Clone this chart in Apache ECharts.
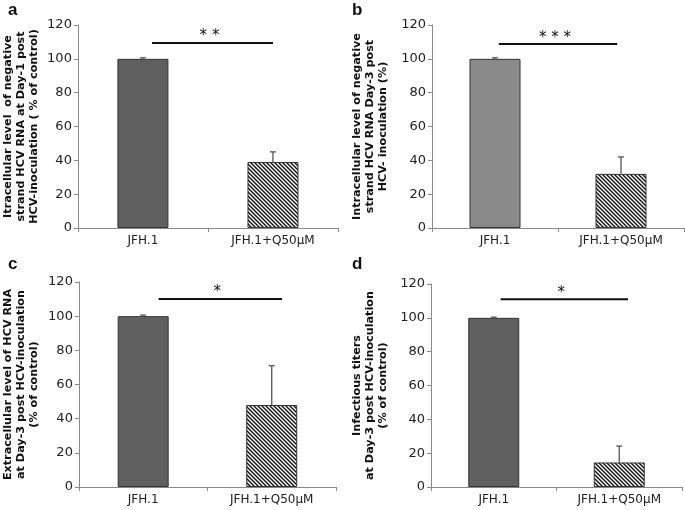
<!DOCTYPE html>
<html><head><meta charset="utf-8">
<script src="https://cdn.jsdelivr.net/npm/echarts@6/dist/echarts.min.js"></script>
<style>html,body{margin:0;padding:0;background:#fff}#c{width:685px;height:510px}</style>
</head><body><div id="c"></div>
<script>
// ---- data ----
const categories = ['JFH.1', 'JFH.1+Q50μM'];
const yMin = 0, yMax = 120, yStep = 20;
const panelLabels = ['a', 'b', 'c', 'd'];
const yTitles = [
  'Itracellular level  of negative\nstrand HCV RNA at Day-1 post\nHCV-inoculation ( % of control)',
  'Intracellular level of negative\nstrand HCV RNA Day-3 post\nHCV- inoculation (%)',
  'Extracellular level of HCV RNA\nat Day-3 post HCV-inoculation\n(% of control)',
  'Infectious titers\nat Day-3 post HCV-inoculation\n(% of control)'
];
const valuesA = [100, 39];
const errorsA = [0.6, 6];
const valuesB = [100, 32];
const errorsB = [0.6, 10];
const valuesC = [100, 48];
const errorsC = [0.6, 23];
const valuesD = [100, 14.5];
const errorsD = [0.4, 9.7];
// significance brackets: from/to in category units, y in data units
const sigA = [0.07, 1.0, 109.3, '* *'];
const sigB = [0.03, 0.97, 108.7, '* * *'];
const sigC = [0.12, 1.08, 110, '*'];
const sigD = [0.055, 1.07, 111, '*'];

const allValues = [valuesA, valuesB, valuesC, valuesD];
const allErrors = [errorsA, errorsB, errorsC, errorsD];
const allSig = [sigA, sigB, sigC, sigD];
const solidColors = ['#5f5f5f', '#8a8a8a', '#606060', '#606060'];

// ---- layout ----
const grids = [
  {left: 77, top: 25, width: 261, height: 203},
  {left: 432, top: 25, width: 252, height: 203},
  {left: 77, top: 282, width: 259, height: 205},
  {left: 431, top: 284, width: 251, height: 203}
];
const nameGaps = [37, 42, 38, 41];
const labelPos = [[8, 2], [352, 2], [8, 256], [352, 256]];

function hatch() {
  const s = 4, c = document.createElement('canvas');
  c.width = s; c.height = s;
  const g = c.getContext('2d');
  g.fillStyle = '#fff'; g.fillRect(0, 0, s, s);
  g.strokeStyle = '#111'; g.lineWidth = 1.4;
  for (let k = -s; k <= s; k += s) {
    g.beginPath(); g.moveTo(k - 1, -1); g.lineTo(k + s + 1, s + 1); g.stroke();
  }
  return c;
}
const hatchImg = hatch();

const axisGray = '#8a8a8a';
const font = 'DejaVu Sans';
const option = {
  animation: false,
  backgroundColor: '#fff',
  grid: grids,
  xAxis: grids.map((g, i) => ({
    type: 'category', gridIndex: i, data: categories,
    axisLine: {lineStyle: {color: axisGray, width: 1}},
    axisTick: {show: true, length: 4, lineStyle: {color: axisGray}},
    axisLabel: {fontFamily: font, fontSize: 12, color: '#222', margin: 7}
  })),
  yAxis: grids.map((g, i) => ({
    type: 'value', gridIndex: i, min: yMin, max: yMax, interval: yStep,
    axisLine: {show: true, lineStyle: {color: axisGray, width: 1}},
    axisTick: {show: true, length: 4, lineStyle: {color: axisGray}},
    splitLine: {show: false},
    axisLabel: {fontFamily: font, fontSize: 13, color: '#222', margin: 6},
    name: yTitles[i], nameLocation: 'middle', nameRotate: 90, nameGap: nameGaps[i],
    nameTextStyle: {fontFamily: 'DejaVu Sans', fontWeight: 'bold', fontSize: 11.2,
      lineHeight: 13.3, color: '#111', align: 'center'}
  })),
  graphic: panelLabels.map((t, i) => ({
    type: 'text', left: labelPos[i][0], top: labelPos[i][1],
    style: {text: t, fontFamily: 'Liberation Sans', fontWeight: 'bold', fontSize: 17, fill: '#111'}
  })),
  series: []
};

allValues.forEach((vals, i) => {
  option.series.push({
    type: 'bar', xAxisIndex: i, yAxisIndex: i, barWidth: 51,
    data: vals.map((v, j) => ({
      value: v,
      itemStyle: {
        color: j === 0 ? solidColors[i] : {image: hatchImg, repeat: 'repeat'},
        borderColor: '#333', borderWidth: 1
      }
    }))
  });
  option.series.push({
    type: 'custom', xAxisIndex: i, yAxisIndex: i, z: 5,
    data: vals.map((v, j) => [j, v, allErrors[i][j]]),
    renderItem: function (params, api) {
      const x = api.value(0), v = api.value(1), e = api.value(2);
      const p0 = api.coord([x, v]), p1 = api.coord([x, v + e]);
      const st = {stroke: '#555', lineWidth: 1.3};
      return {type: 'group', children: [
        {type: 'line', shape: {x1: p0[0], y1: p0[1], x2: p1[0], y2: p1[1]}, style: st},
        {type: 'line', shape: {x1: p1[0] - 3, y1: p1[1], x2: p1[0] + 3, y2: p1[1]}, style: st}
      ]};
    }
  });
  const s = allSig[i];
  option.series.push({
    type: 'custom', xAxisIndex: i, yAxisIndex: i, z: 6,
    data: [[s[0], s[1], s[2]]],
    renderItem: function (params, api) {
      const c0 = api.coord([0, api.value(2)]);
      const band = api.size([1, 0])[0];
      const x1 = c0[0] + api.value(0) * band, x2 = c0[0] + api.value(1) * band, y = c0[1];
      return {type: 'group', children: [
        {type: 'line', shape: {x1: x1, y1: y, x2: x2, y2: y}, style: {stroke: '#111', lineWidth: 2}},
        {type: 'text', x: (x1 + x2) / 2 - 3, y: y + 1,
          style: {text: s[3], fontFamily: font, fontSize: 15, fill: '#111',
            align: 'center', verticalAlign: 'bottom'}}
      ]};
    }
  });
});

const chart = echarts.init(document.getElementById('c'), null, {renderer: 'canvas'});
chart.setOption(option);
</script></body></html>
